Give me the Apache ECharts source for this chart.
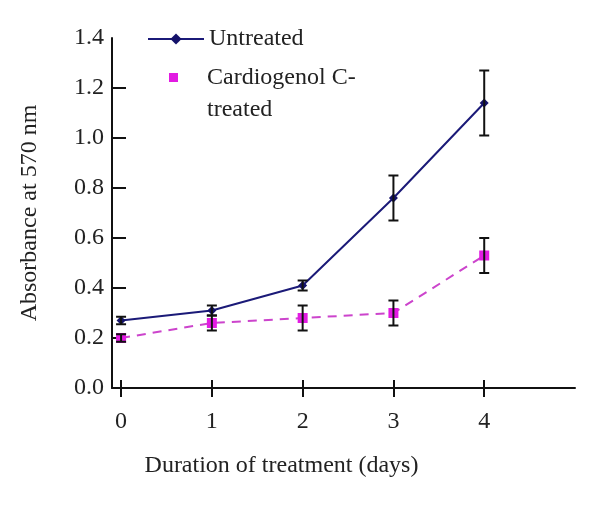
<!DOCTYPE html>
<html>
<head>
<meta charset="utf-8">
<script src="https://cdn.jsdelivr.net/npm/echarts@6/dist/echarts.min.js"></script>
<style>html,body{margin:0;padding:0;background:#fff}#c{width:600px;height:506px}</style>
</head>
<body>
<div id="c"></div>
<script>
const days = [0, 1, 2, 3, 4];
const untreated = [0.27, 0.31, 0.41, 0.76, 1.14];
const untreatedErr = [0.015, 0.02, 0.02, 0.09, 0.13];
const cardio = [0.20, 0.26, 0.28, 0.30, 0.53];
const cardioErr = [0.015, 0.03, 0.05, 0.05, 0.07];
const yTicks = [0.2, 0.4, 0.6, 0.8, 1.0, 1.2];
const xTitle = 'Duration of treatment (days)';
const yTitle = 'Absorbance at 570 nm';
const name1 = 'Untreated';
const name2 = 'Cardiogenol C-treated';

const FONT = 'Liberation Serif';
const TXT = '#222';
const FS = 24;

const chart = echarts.init(document.getElementById('c'), null, {renderer: 'canvas'});

function errData(vals, errs) {
  return days.map((d, i) => [d, vals[i] - errs[i], vals[i] + errs[i]]);
}
function errRender(params, api) {
  const x = api.value(0);
  const lo = api.coord([x, api.value(1)]);
  const hi = api.coord([x, api.value(2)]);
  const w = 5;
  const st = {stroke: '#111', lineWidth: 2};
  return {
    type: 'group',
    children: [
      {type: 'line', shape: {x1: lo[0], y1: lo[1], x2: hi[0], y2: hi[1]}, style: st},
      {type: 'line', shape: {x1: lo[0] - w, y1: lo[1], x2: lo[0] + w, y2: lo[1]}, style: st},
      {type: 'line', shape: {x1: hi[0] - w, y1: hi[1], x2: hi[0] + w, y2: hi[1]}, style: st}
    ]
  };
}

// legend icon: a small square at the top-left of a 33x42 box
const squareIcon = 'path://M0,0L9,0L9,9L0,9Z M32.95,41.95L33,41.95L33,42L32.95,42Z';

const option = {
  backgroundColor: '#fff',
  animation: false,
  textStyle: {fontFamily: FONT},
  grid: {left: 112, top: 38, right: 25, bottom: 118, containLabel: false},
  legend: [
    {
      left: 147, top: 27, padding: 0, itemWidth: 56, itemHeight: 14, itemGap: 5,
      data: [{name: name1}],
      textStyle: {fontFamily: FONT, fontSize: FS, color: TXT}
    },
    {
      left: 169, top: 62, padding: 0, itemWidth: 33, itemHeight: 42,
      data: [{name: name2, icon: squareIcon}],
      formatter: () => 'Cardiogenol C-\ntreated',
      textStyle: {fontFamily: FONT, fontSize: FS, color: TXT, lineHeight: 32}
    }
  ],
  xAxis: [
    {
      type: 'value', min: -0.1, max: 5,
      splitLine: {show: false},
      axisLine: {show: true, onZero: false, lineStyle: {color: '#111', width: 2}},
      axisTick: {show: true, inside: true, length: 8, customValues: days, lineStyle: {color: '#111', width: 2}},
      axisLabel: {show: true, customValues: days, margin: 22, fontFamily: FONT, fontSize: FS, color: TXT},
      name: xTitle, nameLocation: 'middle', nameGap: 66,
      nameTextStyle: {fontFamily: FONT, fontSize: FS, color: TXT, padding: [0, 124, 0, 0]}
    },
    {
      type: 'value', min: -0.1, max: 5, position: 'bottom',
      splitLine: {show: false},
      axisLine: {show: false, onZero: false},
      axisTick: {show: true, inside: false, length: 9, customValues: days, lineStyle: {color: '#111', width: 2}},
      axisLabel: {show: false}
    }
  ],
  yAxis: {
    type: 'value', min: 0, max: 1.4, interval: 0.2,
    splitLine: {show: false},
    axisLine: {show: true, onZero: false, lineStyle: {color: '#111', width: 2}},
    axisTick: {show: true, inside: true, length: 14, customValues: yTicks, lineStyle: {color: '#111', width: 2}},
    axisLabel: {margin: 8, fontFamily: FONT, fontSize: FS, color: TXT, formatter: v => v.toFixed(1)},
    name: yTitle, nameLocation: 'middle', nameGap: 70,
    nameTextStyle: {fontFamily: FONT, fontSize: FS, color: TXT}
  },
  series: [
    {
      name: name1, type: 'line', xAxisIndex: 0,
      data: days.map((d, i) => [d, untreated[i]]),
      symbol: 'diamond', symbolSize: 9,
      itemStyle: {color: '#14126a'},
      lineStyle: {color: '#1b1a78', width: 2, type: 'solid'},
      z: 3
    },
    {
      name: name2, type: 'line', xAxisIndex: 0,
      data: days.map((d, i) => [d, cardio[i]]),
      symbol: 'rect', symbolSize: 10,
      itemStyle: {color: '#e21be2'},
      lineStyle: {color: '#cc44cc', width: 2, type: [9, 7]},
      z: 3
    },
    {
      type: 'custom', xAxisIndex: 0, renderItem: errRender,
      data: errData(untreated, untreatedErr), z: 4, silent: true
    },
    {
      type: 'custom', xAxisIndex: 0, renderItem: errRender,
      data: errData(cardio, cardioErr), z: 4, silent: true
    }
  ]
};
chart.setOption(option);
</script>
</body>
</html>
